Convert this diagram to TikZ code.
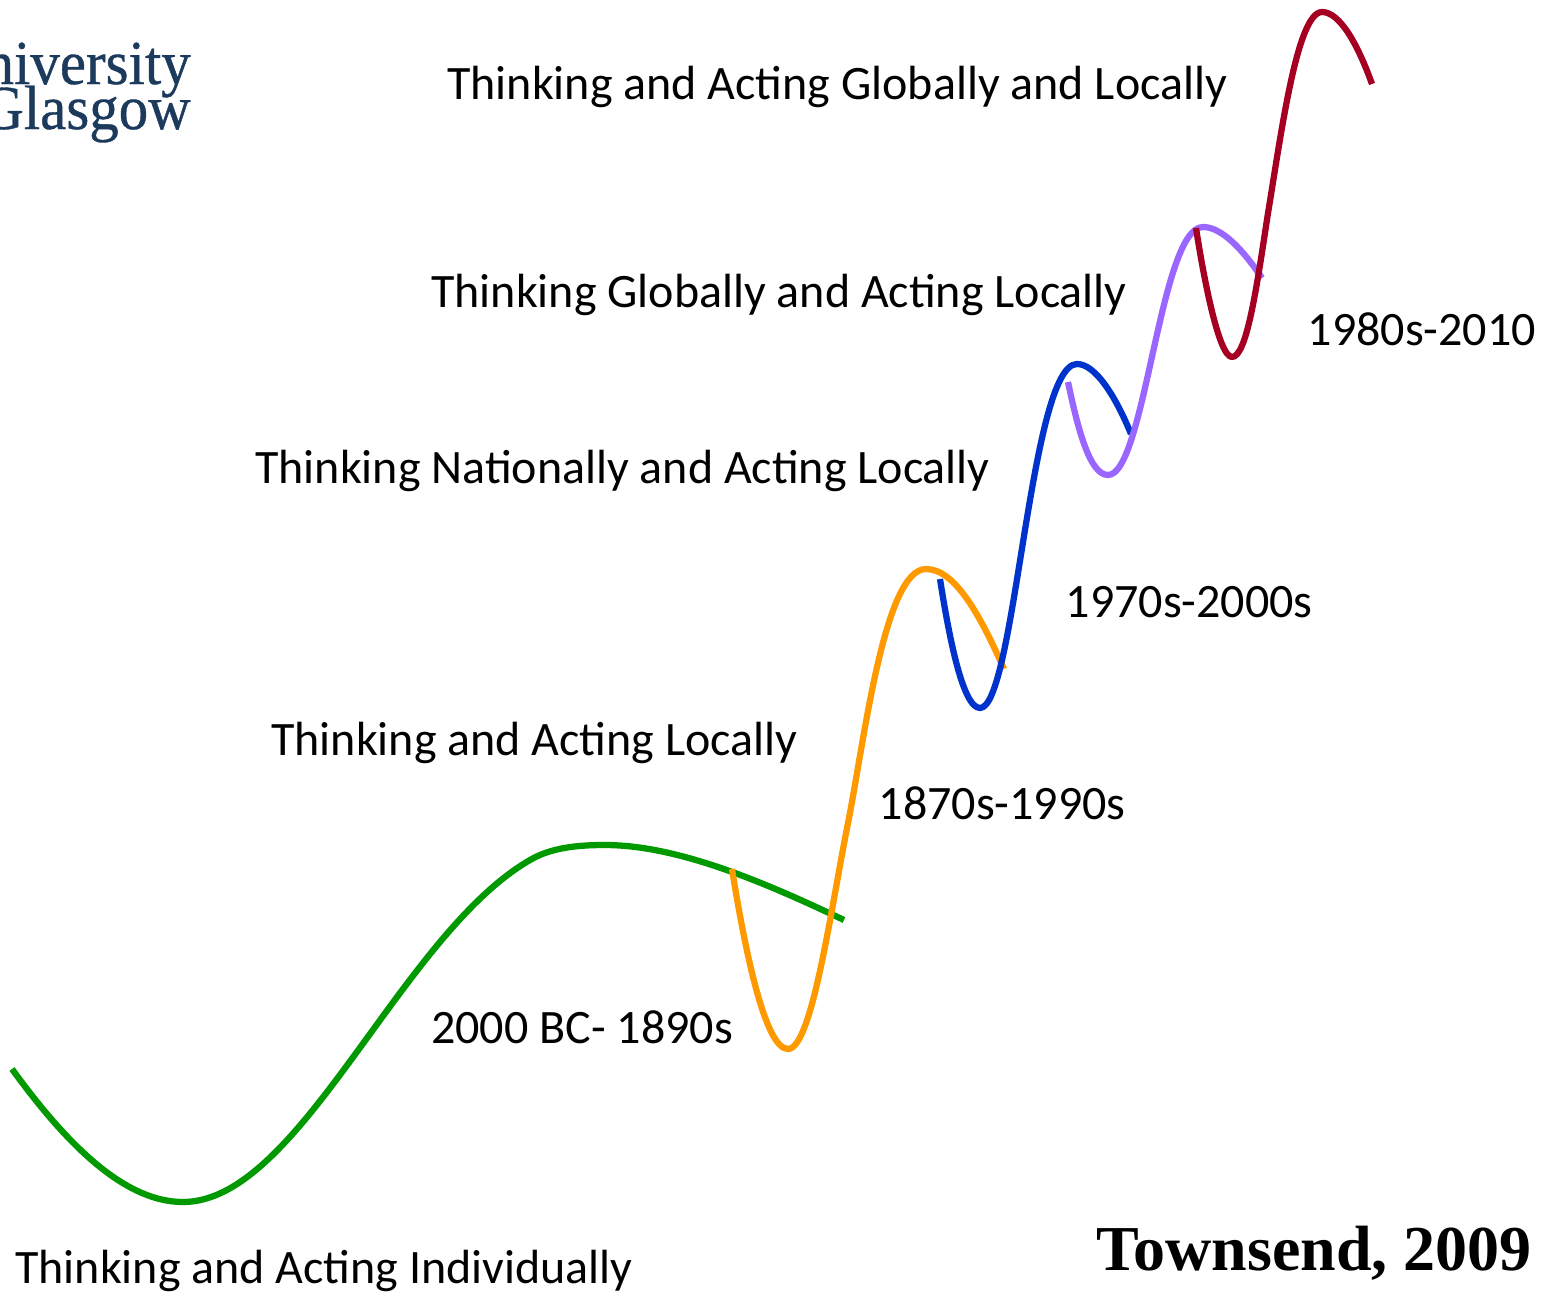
\documentclass[tikz,border=0pt]{standalone}
\usepackage{fontspec}
\setmainfont{Carlito}
\newfontfamily\lib{Liberation Serif}
\newfontfamily\libl[FakeBold=0.6,FakeStretch=0.94]{Liberation Serif}
\definecolor{cgreen}{RGB}{0,153,0}
\definecolor{corange}{RGB}{255,153,0}
\definecolor{cblue}{RGB}{0,51,204}
\definecolor{cpurple}{RGB}{153,102,255}
\definecolor{cred}{RGB}{165,0,33}
\definecolor{clogo}{RGB}{28,58,92}
\tikzset{lab/.style={inner sep=0pt,anchor=base west,font=\fontsize{36}{36}\selectfont,text=black},
logo/.style={inner sep=0pt,anchor=base east,font=\libl\fontsize{47}{47}\selectfont,text=clogo},
wave/.style={line width=4.7pt,line cap=butt,line join=round}}
\begin{document}
\begin{tikzpicture}[x=1pt,y=-1pt,xscale=0.75,yscale=0.75]
\useasboundingbox (0,0) rectangle (1556,1293);
\begin{scope}
\clip (0,0) rectangle (1556,1293);
\node[logo] (l1) at (191,84) {niversity};
\node[logo] (l2) at (191,129) {Glasgow};
\end{scope}
\node[lab] (t1) at (447,99.5) {Thinking and Acting Globally and Locally};
\node[lab] (t2) at (431,307.5) {Thinking Globally and Acting Locally};
\node[lab] (t3) at (255,483.5) {Thinking Nationally and Acting Locally};
\node[lab] (t4) at (271,755.5) {Thinking and Acting Locally};
\node[lab] (t5) at (15,1283.5) {Thinking and Acting Individually};
\node[lab] (d1) at (1307.5,345.5) {1980s-2010};
\node[lab] (d2) at (1065.5,617.5) {1970s-2000s};
\node[lab] (d3) at (878.5,819) {1870s-1990s};
\node[lab] (d4) at (431,1043) {2000 BC- 1890s};
\node[inner sep=0pt,anchor=base east,font=\lib\bfseries\fontsize{48}{48}\selectfont] (a) at (1532,1270) {Townsend, 2009};
\draw[wave,cgreen] (12,1069) .. controls (60,1135) and (120,1202) .. (183,1202)
 .. controls (300,1202) and (400,935) .. (530,860)
 .. controls (552,847) and (580,845) .. (605,845)
 .. controls (680,845) and (770,885) .. (844,920);
\draw[wave,corange] (732,869) .. controls (745,950) and (765,1049) .. (788,1049)
 .. controls (812,1049) and (831,908) .. (848,823)
 .. controls (864,743) and (884,569) .. (926,569)
 .. controls (955,569) and (980,615) .. (1004,669);
\draw[wave,cblue] (940,579) .. controls (948,630) and (962,708) .. (980,708)
 .. controls (1015,708) and (1030,364) .. (1077,364)
 .. controls (1095,364) and (1115,395) .. (1131,434);
\draw[wave,cpurple] (1068,382) .. controls (1078,430) and (1090,475) .. (1108,475)
 .. controls (1145,475) and (1160,227) .. (1203,227)
 .. controls (1222,227) and (1243,250) .. (1262,278);
\draw[wave,cred] (1196,228) .. controls (1204,280) and (1219,357) .. (1232,357)
 .. controls (1247,357) and (1257,285) .. (1268,213)
 .. controls (1281,135) and (1297,12) .. (1322,12)
 .. controls (1340,12) and (1358,45) .. (1372,84);
\end{tikzpicture}
\end{document}
